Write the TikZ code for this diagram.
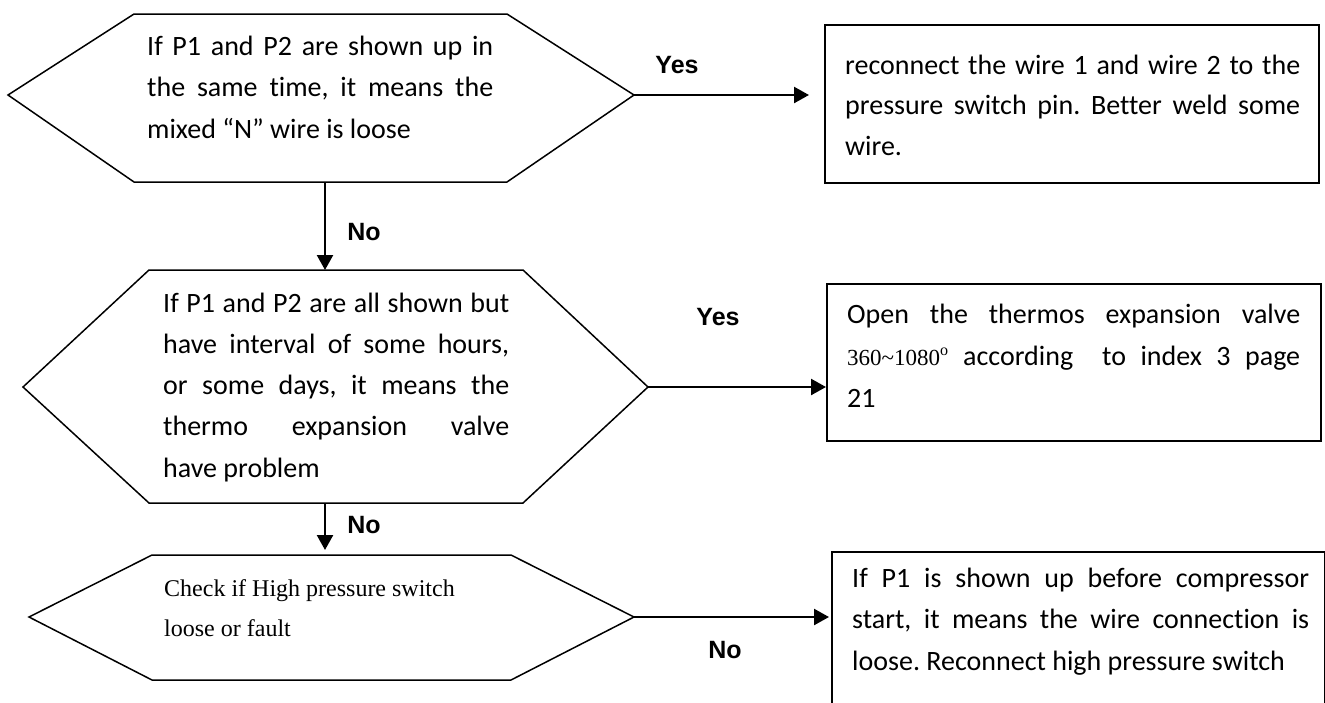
\documentclass[tikz,border=0pt]{standalone}
\usepackage{fontspec}
\setmainfont{Carlito}[Ligatures={NoCommon}]
\newfontfamily\labelfont{Liberation Sans}
\newfontfamily\serifalt{Liberation Serif}
\usetikzlibrary{arrows.meta}
\frenchspacing
\begin{document}
\begin{tikzpicture}[x=1pt,y=-1pt,
  hexline/.style={line width=1.5pt, line join=miter},
  boxnode/.style={draw, line width=1.7pt, anchor=north west, inner sep=0pt},
  flow/.style={line width=2.4pt, -{Triangle[length=15pt,width=16pt]}},
  lbl/.style={font=\labelfont\bfseries\fontsize{25}{30}\selectfont, inner sep=0pt},
  body/.style={anchor=base west, inner sep=0pt}]

\useasboundingbox[fill=white] (0,0) rectangle (1325,702);

% hexagons
\draw[hexline] (8,95) -- (134,14) -- (507,14) -- (634,95) -- (507,182) -- (134,182) -- cycle;
\draw[hexline] (23,387) -- (149,270) -- (523,270) -- (648,387) -- (523,503) -- (149,503) -- cycle;
\draw[hexline] (29,617) -- (152,555) -- (511,555) -- (634,617) -- (511,680) -- (152,680) -- cycle;

\coordinate (h1r) at (634,95);
\coordinate (h1b) at (325,182);
\coordinate (h2t) at (325,270);
\coordinate (h2r) at (648,387);
\coordinate (h2b) at (325,503);
\coordinate (h3t) at (325,555);
\coordinate (h3r) at (634,617);

% boxes
\node[boxnode, minimum width=494pt, minimum height=158pt] (b1) at (824,24) {};
\node[boxnode, minimum width=494pt, minimum height=157pt] (b2) at (826,283) {};
\node[boxnode, minimum width=493pt, minimum height=200pt] (b3) at (831,551) {};

% texts
\node[body] (t1) at (147,55) {\parbox[t]{346pt}{\fontsize{28}{41.5}\selectfont
  \makebox[\linewidth][s]{If P1 and P2 are shown up in}\\
  \makebox[\linewidth][s]{the same time, it means the}\\
  mixed “N” wire is loose}};

\node[body] (t2) at (163,312) {\parbox[t]{346pt}{\fontsize{28}{41.3}\selectfont
  \makebox[\linewidth][s]{If P1 and P2 are all shown but}\\
  \makebox[\linewidth][s]{have interval of some hours,}\\
  \makebox[\linewidth][s]{or some days, it means the}\\
  \makebox[\linewidth][s]{thermo expansion valve}\\
  have problem}};

\node[body] (t3) at (164,596) {\parbox[t]{320pt}{\serifalt\fontsize{24}{40}\selectfont
  Check if High pressure switch\\
  loose or fault}};

\node[body] (t4) at (845,74) {\parbox[t]{455pt}{\fontsize{28}{40.5}\selectfont
  \makebox[\linewidth][s]{reconnect the wire 1 and wire 2 to the}\\
  \makebox[\linewidth][s]{pressure switch pin. Better weld some}\\
  wire.}};

\node[body] (t5) at (847,323) {\parbox[t]{453pt}{\fontsize{28}{42}\selectfont
  \makebox[\linewidth][s]{Open the thermos expansion valve}\\
  \makebox[\linewidth][s]{{\serifalt\fontsize{23}{42}\selectfont 360\textasciitilde1080\textsuperscript{o}} according\ \ to index 3 page}\\
  21}};

\node[body] (t6) at (852,587) {\parbox[t]{457pt}{\fontsize{28}{41.5}\selectfont
  \makebox[\linewidth][s]{If P1 is shown up before compressor}\\
  \makebox[\linewidth][s]{start, it means the wire connection is}\\
  loose. Reconnect high pressure switch}};

% connectors
\draw[flow, shorten >=15pt] (h1r) -- (h1r -| b1.west);
\draw[flow] (h2r) -- (h2r -| b2.west);
\draw[flow, shorten >=2pt] (h3r) -- (h3r -| b3.west);
\draw[flow] (h1b) -- (h2t);
\draw[flow, shorten >=5pt] (h2b) -- (h3t);

% labels
\node[lbl] (yes1) at (677,65) {Yes};
\node[lbl] (yes2) at (718,317) {Yes};
\node[lbl] (no1) at (364,232) {No};
\node[lbl] (no2) at (364,525) {No};
\node[lbl] (no3) at (725,650) {No};
\end{tikzpicture}
\end{document}
